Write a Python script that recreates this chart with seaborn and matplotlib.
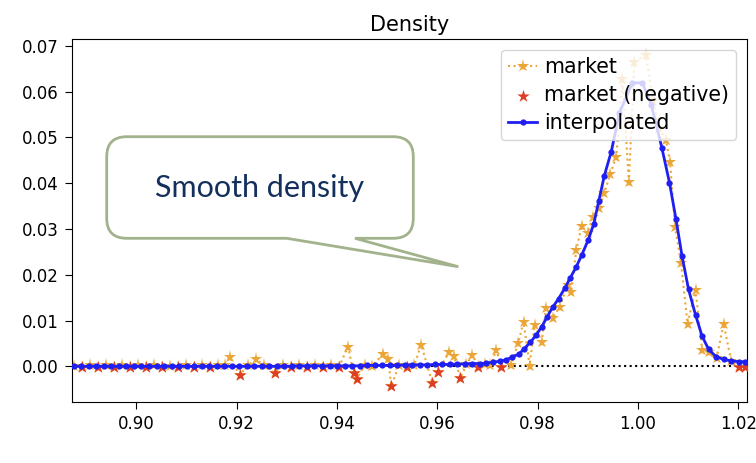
import numpy as np
import pandas as pd
import matplotlib
matplotlib.use("Agg")
import matplotlib.pyplot as plt
import seaborn as sns
from matplotlib.path import Path
from matplotlib.patches import PathPatch
from matplotlib.ticker import FormatStrFormatter, MultipleLocator

# ---------------- data ----------------
market_x = [
    0.8875, 0.8891, 0.8907, 0.8923, 0.8939, 0.8955, 0.8971, 0.8987, 0.9003, 0.9019,
    0.9035, 0.9051, 0.9067, 0.9083, 0.9099, 0.9115, 0.9131, 0.9147, 0.9163, 0.9176,
    0.9186, 0.9206, 0.9222, 0.9239, 0.9255, 0.9276, 0.9292, 0.9308, 0.9324, 0.9340,
    0.9356, 0.9372, 0.9388, 0.9404, 0.9422, 0.9433, 0.9439, 0.9455, 0.9470, 0.9492,
    0.9502, 0.9508, 0.9524, 0.9540, 0.9554, 0.9568, 0.9590, 0.9601, 0.9624, 0.9633,
    0.9646, 0.9658, 0.9670, 0.9681, 0.9695, 0.9706, 0.9718, 0.9727, 0.9747, 0.9761,
    0.9772, 0.9784, 0.9794, 0.9808, 0.9817, 0.9830, 0.9844, 0.9860, 0.9867, 0.9877,
    0.9888, 0.9900, 0.9910, 0.9922, 0.9933, 0.9945, 0.9957, 0.9969, 0.9982, 0.9993,
    1.0016, 1.0030, 1.0043, 1.0056, 1.0064, 1.0074, 1.0086, 1.0099, 1.0115, 1.0128,
    1.0142, 1.0157, 1.0171, 1.0186, 1.0201, 1.0214,
]
market_y = [
    0.0001, -0.0002, 0.0002, -0.0002, 0.0002, -0.0002, 0.0002, -0.0002, 0.0002, -0.0001,
    0.0002, -0.0002, 0.0001, -0.0002, 0.0002, -0.0001, 0.0002, -0.0002, 0.0002, 0.0003,
    0.0020, -0.0019, 0.0002, 0.0015, 0.0002, -0.0015, 0.0003, -0.0002, 0.0002, -0.0002,
    0.0002, -0.0002, 0.0002, -0.0001, 0.0043, -0.0015, -0.0028, 0.0002, 0.0001, 0.0027,
    0.0017, -0.0043, 0.0003, -0.0002, 0.0003, 0.0047, -0.0037, -0.0012, 0.0032, 0.0022,
    -0.0026, 0.0004, 0.0025, -0.0002, 0.0004, 0.0002, 0.0036, -0.0002, 0.0003, 0.0050,
    0.0097, 0.0001, 0.0090, 0.0054, 0.0128, 0.0105, 0.0130, 0.0178, 0.0163, 0.0254,
    0.0306, 0.0290, 0.0327, 0.0345, 0.0378, 0.0420, 0.0458, 0.0628, 0.0403, 0.0665,
    0.0680, 0.0580, 0.0520, 0.0494, 0.0447, 0.0305, 0.0225, 0.0093, 0.0167, 0.0036,
    0.0031, 0.0018, 0.0093, 0.0012, -0.0002, -0.0002,
]

interp_x = [
    0.8875, 0.8890, 0.8905, 0.8920, 0.8935, 0.8950, 0.8965, 0.8980, 0.8995, 0.9010,
    0.9025, 0.9040, 0.9055, 0.9070, 0.9085, 0.9100, 0.9115, 0.9130, 0.9145, 0.9160,
    0.9175, 0.9190, 0.9205, 0.9220, 0.9235, 0.9250, 0.9265, 0.9280, 0.9295, 0.9310,
    0.9325, 0.9340, 0.9355, 0.9370, 0.9385, 0.9400, 0.9415, 0.9430, 0.9445, 0.9460,
    0.9475, 0.9490, 0.9505, 0.9520, 0.9535, 0.9550, 0.9565, 0.9580, 0.9595, 0.9610,
    0.9625, 0.9640, 0.9655, 0.9670, 0.9685, 0.9698, 0.9711, 0.9724, 0.9737, 0.9749,
    0.9763, 0.9773, 0.9785, 0.9797, 0.9808, 0.9819, 0.9830, 0.9842, 0.9855, 0.9865,
    0.9877, 0.9888, 0.9901, 0.9912, 0.9922, 0.9933, 0.9947, 0.9963, 0.9989, 1.0009,
    1.0027, 1.0048, 1.0063, 1.0076, 1.0088, 1.0101, 1.0115, 1.0128, 1.0141, 1.0156,
    1.0171, 1.0186, 1.0201, 1.0214,
]
interp_y = [
    0.0000, 0.0000, 0.0000, 0.0000, 0.0000, 0.0000, 0.0000, 0.0000, 0.0000, 0.0000,
    0.0000, 0.0000, 0.0000, 0.0000, 0.0000, 0.0000, 0.0000, 0.0000, 0.0000, 0.0000,
    0.0000, 0.0000, 0.0000, 0.0000, 0.0000, 0.0000, 0.0000, 0.0000, 0.0000, 0.0000,
    0.0001, 0.0001, 0.0001, 0.0001, 0.0001, 0.0001, 0.0001, 0.0001, 0.0001, 0.0002,
    0.0002, 0.0002, 0.0002, 0.0002, 0.0003, 0.0003, 0.0003, 0.0003, 0.0004, 0.0004,
    0.0004, 0.0005, 0.0005, 0.0006, 0.0006, 0.0007, 0.0009, 0.0011, 0.0014, 0.0020,
    0.0027, 0.0038, 0.0052, 0.0068, 0.0086, 0.0108, 0.0129, 0.0148, 0.0172, 0.0193,
    0.0217, 0.0243, 0.0276, 0.0311, 0.0361, 0.0416, 0.0469, 0.0553, 0.0619, 0.0619,
    0.0570, 0.0476, 0.0401, 0.0321, 0.0241, 0.0168, 0.0112, 0.0066, 0.0037, 0.0021,
    0.0015, 0.0012, 0.0010, 0.0010,
]

x_ticks = [0.90, 0.92, 0.94, 0.96, 0.98, 1.00, 1.02]
title = "Density"
callout_text = "Smooth density"

ORANGE = "#EBA637"
RED = "#DD3E26"
BLUE = "#1F1FF2"

# ---------------- figure ----------------
W, H = 756, 463
fig = plt.figure(figsize=(W / 100, H / 100), dpi=100)
ax = fig.add_axes([72.3 / W, 1 - 402.3 / H, (746.7 - 72.3) / W, (402.3 - 39.3) / H])

df_m = pd.DataFrame({"x": market_x, "y": market_y})
df_neg = df_m[df_m["y"] < 0]
df_i = pd.DataFrame({"x": interp_x, "y": interp_y})

ax.axhline(0, color="black", linestyle=":", linewidth=1.5, zorder=1)

sns.lineplot(data=df_m, x="x", y="y", ax=ax, color=ORANGE, linestyle=":",
             linewidth=1.5, marker="*", markersize=9.5, markeredgewidth=0,
             label="market", sort=False, estimator=None, zorder=2)
sns.scatterplot(data=df_neg, x="x", y="y", ax=ax, color=RED, marker="*",
                s=90, linewidth=0, label="market (negative)", zorder=3)
sns.lineplot(data=df_i, x="x", y="y", ax=ax, color=BLUE, linewidth=2.0,
             marker="o", markersize=4.5, markeredgewidth=0,
             label="interpolated", sort=False, estimator=None, zorder=4)

ax.set_xlim(0.8872, 1.0217)
ax.set_ylim(-0.00786, 0.0714)
ax.set_xticks(x_ticks)
ax.xaxis.set_major_formatter(FormatStrFormatter("%.2f"))
ax.yaxis.set_major_locator(MultipleLocator(0.01))
ax.yaxis.set_major_formatter(FormatStrFormatter("%.2f"))
ax.tick_params(labelsize=12, length=5, pad=4.5)
ax.set_xlabel("")
ax.set_ylabel("")
ax.set_title(title, fontsize=15)

leg = ax.legend(loc="upper right", fontsize=14.8, handlelength=1.4,
                borderpad=0.35, labelspacing=0.4, handletextpad=0.35)

# ---------------- callout ----------------
def fp(px, py):
    return (px / W, 1 - py / H)

L, R, T, B, r = 106.7, 413.3, 136.7, 238.3, 20
pts = [
    ((286.7, B), Path.MOVETO),
    ((458.3, 266.7), Path.LINETO),
    ((355.0, B), Path.LINETO),
    ((R - r, B), Path.LINETO),
    ((R, B), Path.CURVE3), ((R, B - r), Path.CURVE3),
    ((R, T + r), Path.LINETO),
    ((R, T), Path.CURVE3), ((R - r, T), Path.CURVE3),
    ((L + r, T), Path.LINETO),
    ((L, T), Path.CURVE3), ((L, T + r), Path.CURVE3),
    ((L, B - r), Path.LINETO),
    ((L, B), Path.CURVE3), ((L + r, B), Path.CURVE3),
    ((286.7, B), Path.CLOSEPOLY),
]
verts = [fp(*p) for p, _ in pts]
codes = [c for _, c in pts]
patch = PathPatch(Path(verts, codes), transform=fig.transFigure,
                  facecolor="white", edgecolor="#A2B28C", linewidth=2.0,
                  zorder=10)
fig.patches.append(patch)
fig.text(260 / W, 1 - 188.3 / H, callout_text, ha="center", va="center",
         fontsize=22, color="#13305C", family=["Lato", "DejaVu Sans"], zorder=11)

fig.savefig("out.png", dpi=100)
